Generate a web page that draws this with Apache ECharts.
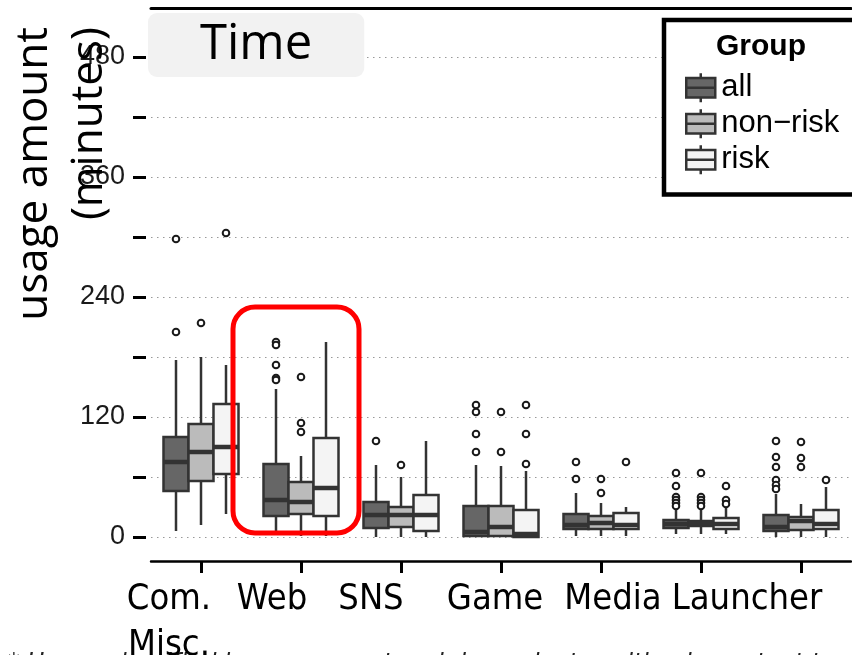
<!DOCTYPE html>
<html><head><meta charset="utf-8">
<script src="https://cdn.jsdelivr.net/npm/echarts@6/dist/echarts.min.js"></script>
<style>html,body{margin:0;padding:0;background:#fff}#c{width:852px;height:655px}</style>
</head><body><div id="c"></div>
<script>
const categories = ['Com.\nMisc.', 'Web', 'SNS', 'Game', 'Media', 'Launcher', ''];
const groupNames = ['all', 'non\u2212risk', 'risk'];
const yTickValues = [0, 60, 120, 180, 240, 300, 360, 420, 480];
const yLabelValues = [0, 120, 240, 360, 480];
// box stats per category: [min, q1, median, q3, max]
const allStats = [[6, 46, 75, 100, 177], [2, 21, 37, 73, 148], [0, 9, 22, 35, 72], [1, 1, 5, 31, 72], [1, 8, 12, 23, 44], [3, 9, 13, 17, 27], [0, 6, 10, 22, 43]];
const nonRiskStats = [[12, 56, 85, 113, 180], [1, 23, 35, 55, 81], [0, 10, 22, 30, 60], [1, 1, 10, 31, 71], [1, 8, 14, 21, 34], [3, 11, 14, 16, 29], [0, 7, 16, 20, 33]];
const riskStats = [[23, 63, 90, 133, 172], [1, 21, 49, 99, 195], [0, 6, 22, 42, 96], [0, 0, 3, 27, 66], [1, 8, 12, 24, 30], [3, 8, 13, 19, 32], [0, 8, 13, 27, 50]];
// outliers per category
const allOutliers = [[205, 298], [195, 192, 172, 159, 157], [96], [132, 125, 103, 85], [75, 58], [64, 51, 40, 37, 34, 31], [96, 80, 70, 57, 52, 48]];
const nonRiskOutliers = [[214], [160, 114, 105], [72], [125, 85], [58, 44], [64, 40, 37, 34, 31], [95, 79, 70]];
const riskOutliers = [[304], [], [], [132, 103, 73], [75], [51, 37, 33], [57]];

const statsList = [allStats, nonRiskStats, riskStats];
const outlierList = [allOutliers, nonRiskOutliers, riskOutliers];
const groupFills = ['#666666', '#bbbbbb', '#f4f4f4'];
const edge = '#333333';
const labelShift = [-32, -29, -30, -6, 12, 46, 0];

function boxRender(gi) {
  return function (params, api) {
    const ci = api.value(0);
    const band = api.size([1, 0])[0];
    const hw = band * 0.125;
    const cx = api.coord([ci, 0])[0] + (gi - 1) * band * 0.25;
    const ys = [1, 2, 3, 4, 5].map(d => api.coord([ci, api.value(d)])[1]);
    const st = { stroke: edge, lineWidth: 2.5 };
    return {
      type: 'group', children: [
        { type: 'line', shape: { x1: cx, y1: ys[3], x2: cx, y2: ys[4] }, style: st },
        { type: 'line', shape: { x1: cx, y1: ys[1], x2: cx, y2: ys[0] }, style: st },
        { type: 'rect', shape: { x: cx - hw, y: ys[3], width: 2 * hw, height: ys[1] - ys[3] }, style: { fill: groupFills[gi], stroke: edge, lineWidth: 2.5 } },
        { type: 'line', shape: { x1: cx - hw, y1: ys[2], x2: cx + hw, y2: ys[2] }, style: { stroke: edge, lineWidth: 4.5 } }
      ]
    };
  };
}
function outlierRender(gi) {
  return function (params, api) {
    const ci = api.value(0);
    const band = api.size([1, 0])[0];
    const p = api.coord([ci, api.value(1)]);
    return { type: 'circle', shape: { cx: p[0] + (gi - 1) * band * 0.25, cy: p[1], r: 3.3 }, style: { fill: '#fff', stroke: '#1a1a1a', lineWidth: 2 } };
  };
}

const series = [];
groupNames.forEach((name, gi) => {
  series.push({
    type: 'custom', name: name, xAxisIndex: 0, yAxisIndex: 0,
    itemStyle: { color: groupFills[gi], borderColor: edge, borderWidth: 2.5 },
    encode: { x: 0, y: [1, 2, 3, 4, 5] },
    data: statsList[gi].map((s, i) => [i].concat(s)),
    renderItem: boxRender(gi), z: 3
  });
});
groupNames.forEach((name, gi) => {
  const d = [];
  outlierList[gi].forEach((arr, i) => arr.forEach(v => d.push([i, v])));
  series.push({
    type: 'custom', name: name + ' outliers', xAxisIndex: 0, yAxisIndex: 0,
    encode: { x: 0, y: 1 }, data: d, renderItem: outlierRender(gi), z: 4
  });
});
series.push({
  type: 'line', data: [], xAxisIndex: 0, yAxisIndex: 0,
  markLine: {
    silent: true, symbol: ['none', 'none'], label: { show: false }, z: 1,
    lineStyle: { type: [1.5, 4.5], color: '#999999', width: 1.2 },
    data: yTickValues.map(v => ({ yAxis: v }))
  }
});

const rich = {};
labelShift.forEach((s, i) => {
  rich['l' + i] = {
    fontFamily: 'DejaVu Sans Condensed', fontSize: 36, lineHeight: 46, color: '#000',
    padding: s < 0 ? [0, -2 * s, 0, 0] : [0, 0, 0, 2 * s]
  };
});

const boxIcon = 'path://M0,5H30V25H0Z M0,15H30 M15,0V5 M15,25V30';

const chart = echarts.init(document.getElementById('c'), null, { renderer: 'canvas' });
chart.setOption({
  animation: false,
  backgroundColor: '#fff',
  title: {
    text: 'Time', left: 148, top: 13, padding: [7, 52, 7, 52], z: 10,
    backgroundColor: '#f2f2f2', borderRadius: 9,
    textStyle: { fontFamily: 'Open Sans', fontSize: 49, fontWeight: 'normal', color: '#000', lineHeight: 50 }
  },
  legend: {
    orient: 'vertical', left: 664, top: 20, z: 10,
    padding: [52, 40, 19, 21], itemGap: 4.5, itemWidth: 29, itemHeight: 30,
    backgroundColor: '#fff', borderColor: '#000', borderWidth: 4.5,
    itemStyle: { borderColor: edge, borderWidth: 2.5 },
    textStyle: { fontFamily: 'Liberation Sans', fontSize: 31, color: '#000', padding: [0, 0, 0, 1] },
    data: groupNames.map(n => ({ name: n, icon: boxIcon }))
  },
  grid: { left: 151, top: 8, width: 700, height: 553, containLabel: false, outerBoundsMode: 'none' },
  xAxis: [{
    type: 'category', data: categories, position: 'bottom',
    axisLine: { show: true, onZero: false, lineStyle: { color: '#000', width: 2.5 } },
    axisTick: { show: true, alignWithLabel: true, length: 12, lineStyle: { color: '#000', width: 3 } },
    axisLabel: {
      interval: 0, margin: 16, rich: rich,
      formatter: (value, index) => value ? value.split('\n').map(s => '{l' + index + '|' + s + '}').join('\n') : ''
    },
    splitLine: { show: false }
  }, {
    type: 'category', data: categories, position: 'top',
    axisLine: { show: true, onZero: false, lineStyle: { color: '#000', width: 3 } },
    axisTick: { show: false }, axisLabel: { show: false }, splitLine: { show: false }
  }],
  yAxis: {
    type: 'value', min: -24, max: 529, offset: 5,
    axisLine: { show: false },
    axisTick: { show: true, length: 13, customValues: yTickValues, lineStyle: { color: '#000', width: 3 } },
    axisLabel: { customValues: yLabelValues, margin: 21, fontFamily: 'Liberation Sans', fontSize: 27, color: '#1a1a1a' },
    splitLine: { show: false }
  },
  series: series
});

const pTop = chart.convertToPixel({ xAxisIndex: 0, yAxisIndex: 0 }, [1, 230]);
const pBot = chart.convertToPixel({ xAxisIndex: 0, yAxisIndex: 0 }, [1, 4]);
chart.setOption({
  graphic: [
    {
      type: 'rect', z: 100, silent: true,
      shape: { x: pTop[0] - 68, y: pTop[1], width: 126, height: pBot[1] - pTop[1], r: 22 },
      style: { fill: 'none', stroke: '#ff0000', lineWidth: 5 }
    },
    {
      type: 'text', z: 100, x: 7, y: 27, rotation: Math.PI / 2, silent: true,
      style: { text: 'usage amount\n(minutes)', font: '44px "Open Sans"', align: 'right', verticalAlign: 'top', lineHeight: 55, fill: '#000' }
    },
    {
      type: 'text', z: 101, x: 761, y: 47, silent: true,
      style: { text: 'Group', font: 'bold 30px "Liberation Sans"', align: 'center', verticalAlign: 'middle', fill: '#000' }
    },
    {
      type: 'text', z: 0, x: 8, y: 652, silent: true,
      style: { text: '* Usage classified by component and dependent position in content type in', font: 'italic 26px "DejaVu Sans Condensed"', verticalAlign: 'top', fill: '#222' }
    }
  ]
});
</script>
</body></html>
